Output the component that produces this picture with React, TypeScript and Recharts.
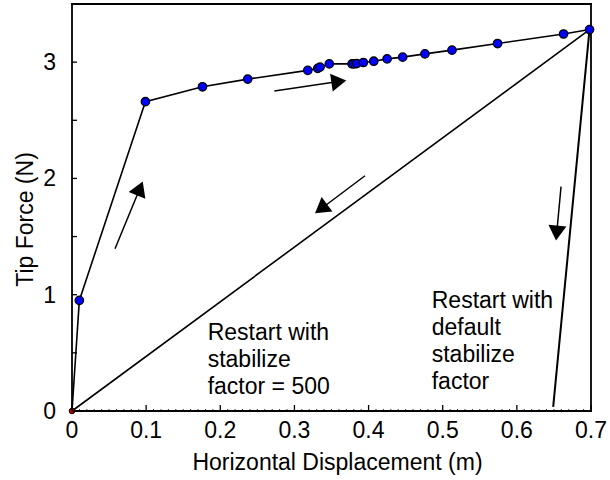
import React from 'react';
import { LineChart, Line, XAxis, YAxis, ReferenceLine, ReferenceDot, Label } from 'recharts';

const FONT = '"Liberation Sans", Arial, Helvetica, sans-serif';
const FS = 23;

// Loading path (blue markers), horizontal displacement (m) vs tip force (N)
const loadX = [0, 0.0099, 0.099, 0.176, 0.237, 0.318, 0.3314, 0.3345, 0.347, 0.3777, 0.3804, 0.384, 0.393, 0.407, 0.425, 0.446, 0.476, 0.5125, 0.574, 0.663, 0.698];
const loadY = [0, 0.951, 2.66, 2.788, 2.854, 2.929, 2.946, 2.957, 2.985, 2.985, 2.985, 2.988, 2.997, 3.008, 3.028, 3.043, 3.071, 3.103, 3.16, 3.242, 3.28];

// Restart with stabilize factor = 500
const stab500X = [0.698, 0];
const stab500Y = [3.28, 0];

// Restart with default stabilize factor
const defaultX = [0.698, 0.649];
const defaultY = [3.28, 0.035];

// Direction arrows: tail -> head
const arrowFromX = [0.058, 0.2729, 0.3952, 0.6596];
const arrowFromY = [1.395, 2.751, 2.023, 1.929];
const arrowToX = [0.0954, 0.3699, 0.3278, 0.6528];
const arrowToY = [1.974, 2.843, 1.7, 1.466];

// Axis ticks
const xMajor = [0, 0.1, 0.2, 0.3, 0.4, 0.5, 0.6, 0.7];
const xMinor = Array.from({ length: 71 }, (_, i) => i / 100);
const yTicks = [0, 0.5, 1, 1.5, 2, 2.5, 3, 3.5];
const yLabels = [0, 1, 2, 3];

const note1 = ['Restart with', 'stabilize', 'factor = 500'];
const note2 = ['Restart with', 'default', 'stabilize', 'factor'];
const note1At = { x: 0.183, y: 0.61 };
const note2At = { x: 0.4852, y: 0.89 };

const toPts = (xs: number[], ys: number[]) => xs.map((x, i) => ({ x, y: ys[i] }));
const loadPath = toPts(loadX, loadY);
const stab500Path = toPts(stab500X, stab500Y);
const defaultPath = toPts(defaultX, defaultY);
const arrows = arrowFromX.map((x, i) => ({ x0: x, y0: arrowFromY[i], x1: arrowToX[i], y1: arrowToY[i] }));

const isMajorX = (v: number) => xMajor.some((m) => Math.abs(m - v) < 1e-6);
const fmtX = (v: number) => (v === 0 ? '0' : v.toFixed(1));

const BottomTick = (p: any) => {
  const { x, y, payload } = p;
  const v = payload.value;
  const major = isMajorX(v);
  return (
    <g>
      <line x1={x} x2={x} y1={y} y2={y - (major ? 6 : 2)} stroke="#000" strokeWidth={major ? 1.3 : 0.8} />
      {major && (
        <text x={x} y={y + 27} textAnchor="middle" fontFamily={FONT} fontSize={FS} fill="#000">
          {fmtX(v)}
        </text>
      )}
    </g>
  );
};

const TopTick = (p: any) => {
  const { x, y } = p;
  return <line x1={x} x2={x} y1={y} y2={y + 6} stroke="#000" strokeWidth={1.3} />;
};

const LeftTick = (p: any) => {
  const { x, y, payload } = p;
  const v = payload.value;
  const labelled = yLabels.includes(v);
  return (
    <g>
      <line x1={x} x2={x + 5} y1={y} y2={y} stroke="#000" strokeWidth={1.3} />
      {labelled && (
        <text x={x - 16} y={y + 8} textAnchor="end" fontFamily={FONT} fontSize={FS} fill="#000">
          {v}
        </text>
      )}
    </g>
  );
};

const RightTick = (p: any) => {
  const { x, y } = p;
  return <line x1={x} x2={x - 5} y1={y} y2={y} stroke="#000" strokeWidth={1.3} />;
};

const LoadDot = (p: any) => {
  const { cx, cy, index } = p;
  if (index === 0) {
    return <circle key={`d${index}`} cx={cx} cy={cy} r={2.8} fill="#c00000" stroke="#000" strokeWidth={1} />;
  }
  return <circle key={`d${index}`} cx={cx} cy={cy} r={4.2} fill="#0000ff" stroke="#000" strokeWidth={1.3} />;
};

const ArrowShape = (p: any) => {
  const { x1, y1, x2, y2 } = p;
  const dx = x2 - x1;
  const dy = y2 - y1;
  const len = Math.hypot(dx, dy) || 1;
  const ux = dx / len;
  const uy = dy / len;
  const hl = 15;
  const hw = 9;
  const bx = x2 - ux * hl;
  const by = y2 - uy * hl;
  const pts = `${x2},${y2} ${bx - uy * hw},${by + ux * hw} ${bx + uy * hw},${by - ux * hw}`;
  return (
    <g>
      <line x1={x1} y1={y1} x2={bx + ux * 2} y2={by + uy * 2} stroke="#000" strokeWidth={1.5} />
      <polygon points={pts} fill="#000" />
    </g>
  );
};

const noteShape = (lines: string[]) => (p: any) => (
  <text x={p.cx} y={p.cy} fontFamily={FONT} fontSize={FS} fill="#000">
    {lines.map((t, i) => (
      <tspan key={i} x={p.cx} y={p.cy + i * 27}>
        {t}
      </tspan>
    ))}
  </text>
);

const XTitle = (p: any) => {
  const vb = p.viewBox;
  return (
    <text x={vb.x + vb.width / 2 + 6} y={vb.y + 59} textAnchor="middle" fontFamily={FONT} fontSize={FS} fill="#000">
      Horizontal Displacement (m)
    </text>
  );
};

const YTitle = (p: any) => {
  const vb = p.viewBox;
  const cx = vb.x + 33;
  const cy = vb.y + vb.height / 2 + 12;
  return (
    <text x={cx} y={cy} transform={`rotate(-90, ${cx}, ${cy})`} textAnchor="middle" fontFamily={FONT} fontSize={FS} fill="#000">
      Tip Force (N)
    </text>
  );
};

const axisLine = { stroke: '#000', strokeWidth: 1.8, strokeLinecap: 'square' as const };

export default function App() {
  return (
    <div style={{ position: 'absolute', left: 0, top: 0, width: 610, height: 480, background: '#fff' }}>
      <LineChart width={610} height={480} margin={{ top: 0, right: 0, bottom: 0, left: 0 }}>
        <XAxis
          xAxisId="b"
          dataKey="x"
          type="number"
          domain={[0, 0.7]}
          ticks={xMinor}
          interval={0}
          orientation="bottom"
          height={69}
          tickSize={0}
          tickMargin={0}
          tickLine={false}
          tick={<BottomTick />}
          axisLine={axisLine}
        >
          <Label content={<XTitle />} />
        </XAxis>
        <XAxis
          xAxisId="t"
          dataKey="x"
          type="number"
          domain={[0, 0.7]}
          ticks={xMajor}
          interval={0}
          orientation="top"
          height={4}
          tickSize={0}
          tickMargin={0}
          tickLine={false}
          tick={<TopTick />}
          axisLine={axisLine}
        />
        <YAxis
          yAxisId="l"
          type="number"
          domain={[0, 3.5]}
          ticks={yTicks}
          interval={0}
          orientation="left"
          width={72}
          tickSize={0}
          tickMargin={0}
          tickLine={false}
          tick={<LeftTick />}
          axisLine={axisLine}
        >
          <Label content={<YTitle />} />
        </YAxis>
        <YAxis
          yAxisId="r"
          type="number"
          domain={[0, 3.5]}
          ticks={yTicks}
          interval={0}
          orientation="right"
          width={19}
          tickSize={0}
          tickMargin={0}
          tickLine={false}
          tick={<RightTick />}
          axisLine={axisLine}
        />

        <Line
          xAxisId="b"
          yAxisId="l"
          data={stab500Path}
          dataKey="y"
          stroke="#000"
          strokeWidth={1.6}
          dot={false}
          isAnimationActive={false}
        />
        <Line
          xAxisId="b"
          yAxisId="l"
          data={defaultPath}
          dataKey="y"
          stroke="#000"
          strokeWidth={2}
          dot={false}
          isAnimationActive={false}
        />
        <Line
          xAxisId="b"
          yAxisId="l"
          data={loadPath}
          dataKey="y"
          stroke="#000"
          strokeWidth={1.6}
          dot={<LoadDot />}
          isAnimationActive={false}
        />

        {arrows.map((a, i) => (
          <ReferenceLine
            key={`a${i}`}
            xAxisId="b"
            yAxisId="l"
            segment={[
              { x: a.x0, y: a.y0 },
              { x: a.x1, y: a.y1 },
            ]}
            shape={ArrowShape}
          />
        ))}

        <ReferenceDot xAxisId="b" yAxisId="l" x={note1At.x} y={note1At.y} r={0} shape={noteShape(note1)} />
        <ReferenceDot xAxisId="b" yAxisId="l" x={note2At.x} y={note2At.y} r={0} shape={noteShape(note2)} />
      </LineChart>
    </div>
  );
}
